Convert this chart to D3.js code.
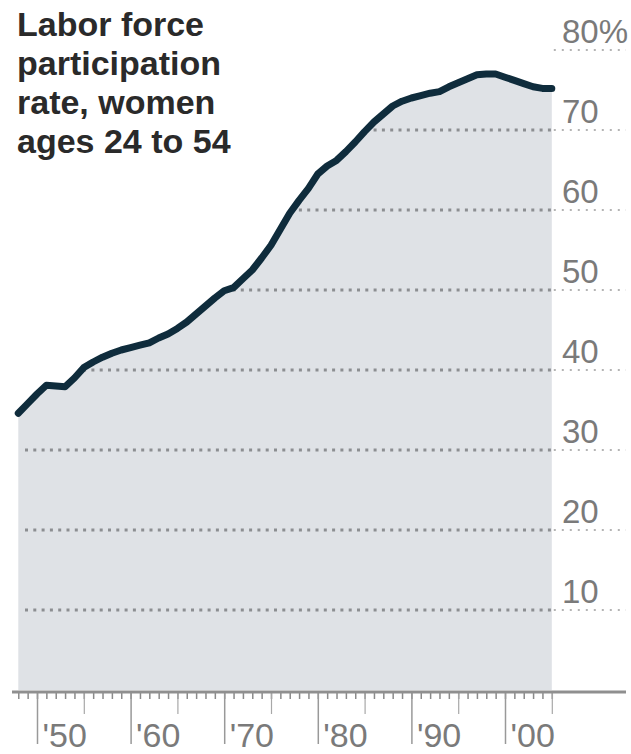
<!DOCTYPE html>
<html>
<head>
<meta charset="utf-8">
<script src="https://cdn.jsdelivr.net/npm/d3@7"></script>
<style>
  body { margin: 0; background: #fff; }
  svg { display: block; font-family: 'Liberation Sans', Arial, sans-serif; }
</style>
</head>
<body>
<div id="chart"></div>
<script>
const width = 631
const height = 754

// women's labor force participation rate
const years = d3.range(1948, 2006)
const rates = [
  34.6, 35.8, 37.0, 38.1, 38.0, 37.9, 39.0, 40.3, 41.0, 41.6,
  42.1, 42.5, 42.8, 43.1, 43.4, 44.0, 44.5, 45.2, 46.0, 47.0,
  48.0, 49.0, 49.9, 50.3, 51.4, 52.5, 54.0, 55.6, 57.6, 59.6,
  61.2, 62.7, 64.5, 65.5, 66.2, 67.3, 68.5, 69.8, 71.0, 72.0,
  73.0, 73.6, 74.0, 74.3, 74.6, 74.8, 75.4, 75.9, 76.4, 76.9,
  77.0, 77.0, 76.6, 76.2, 75.8, 75.4, 75.2, 75.2
]
const gridValues = [10, 20, 30, 40, 50, 60, 70, 80]
const gridLabels = ['10', '20', '30', '40', '50', '60', '70', '80%']
const decadeLabels = ["'50", "'60", "'70", "'80", "'90", "'00"]
const titleLines = ['Labor force', 'participation', 'rate, women', 'ages 24 to 54']

const data = years.map((y, i) => ({ year: y, rate: rates[i] }))

const x = d3.scaleLinear().domain([1950, 2000]).range([37, 505])
const y = d3.scaleLinear().domain([0, 80]).range([690, 50])

const svg = d3
  .select('#chart')
  .append('svg')
  .attr('width', width)
  .attr('height', height)

const area = d3
  .area()
  .x(d => x(d.year))
  .y0(y(0))
  .y1(d => y(d.rate))

const line = d3
  .line()
  .x(d => x(d.year))
  .y(d => y(d.rate))

// clip for the part of the gridlines sitting under the area
svg
  .append('clipPath')
  .attr('id', 'under')
  .append('path')
  .datum(data)
  .attr('d', area)

svg
  .append('path')
  .datum(data)
  .attr('d', area)
  .attr('fill', '#dfe2e6')

const xEnd = x(d3.max(years))

// gridlines inside the shaded area
svg
  .append('g')
  .attr('clip-path', 'url(#under)')
  .selectAll('line')
  .data(gridValues)
  .join('line')
  .attr('x1', 25)
  .attr('x2', xEnd)
  .attr('y1', d => y(d))
  .attr('y2', d => y(d))
  .attr('stroke', '#8c8e91')
  .attr('stroke-width', 3)
  .attr('stroke-dasharray', '3,5.3')

// gridlines continuing to the labels
svg
  .append('g')
  .selectAll('line')
  .data(gridValues)
  .join('line')
  .attr('x1', xEnd + 2)
  .attr('x2', 626)
  .attr('y1', d => y(d))
  .attr('y2', d => y(d))
  .attr('stroke', '#b4b4b4')
  .attr('stroke-width', 2)
  .attr('stroke-dasharray', '2,6')

svg
  .append('g')
  .selectAll('text')
  .data(gridValues)
  .join('text')
  .attr('x', 562)
  .attr('y', d => y(d) - 7)
  .text((d, i) => gridLabels[i])
  .attr('fill', '#7a7a7a')
  .style('font-size', '33px')

// the line
svg
  .append('path')
  .datum(data)
  .attr('d', line)
  .attr('fill', 'none')
  .attr('stroke', '#0f2c3c')
  .attr('stroke-width', 7)
  .attr('stroke-linejoin', 'round')
  .attr('stroke-linecap', 'round')

// x axis: yearly, half-decade and decade ticks
const axisY = y(0) + 2
const decades = d3.range(1950, 2001, 10)
const halves = d3.range(1955, 2006, 10)

const minorAxis = svg
  .append('g')
  .attr('transform', `translate(0,${axisY})`)
  .call(d3.axisBottom(x).tickValues(years).tickSize(7).tickFormat(''))
minorAxis.select('.domain').remove()
minorAxis.selectAll('line').attr('stroke', '#8a8a8a').attr('stroke-width', 1.5)

const halfAxis = svg
  .append('g')
  .attr('transform', `translate(0,${axisY})`)
  .call(d3.axisBottom(x).tickValues(halves).tickSize(22).tickFormat(''))
halfAxis.select('.domain').remove()
halfAxis.selectAll('line').attr('stroke', '#a8a8a8').attr('stroke-width', 1.2)

const majorAxis = svg
  .append('g')
  .attr('transform', `translate(0,${axisY})`)
  .call(
    d3
      .axisBottom(x)
      .tickValues(decades)
      .tickSize(52)
      .tickFormat((d, i) => decadeLabels[i])
  )
majorAxis.select('.domain').remove()
majorAxis.selectAll('line').attr('stroke', '#999').attr('stroke-width', 1.5)
majorAxis
  .selectAll('text')
  .attr('text-anchor', 'start')
  .attr('x', 5)
  .attr('y', 55)
  .attr('dy', 0)
  .attr('fill', '#7a7a7a')
  .style('font-size', '34px')
  .style('font-family', "'Liberation Sans', Arial, sans-serif")

svg
  .append('line')
  .attr('x1', 12)
  .attr('x2', 626)
  .attr('y1', axisY)
  .attr('y2', axisY)
  .attr('stroke', '#8f8f8f')
  .attr('stroke-width', 3)

// title
svg
  .append('text')
  .attr('x', 17)
  .attr('y', 36)
  .attr('fill', '#2a2a2a')
  .attr('font-weight', 700)
  .style('font-size', '34px')
  .selectAll('tspan')
  .data(titleLines)
  .join('tspan')
  .attr('x', 17)
  .attr('dy', (d, i) => (i === 0 ? 0 : 39))
  .text(d => d)
</script>
</body>
</html>
